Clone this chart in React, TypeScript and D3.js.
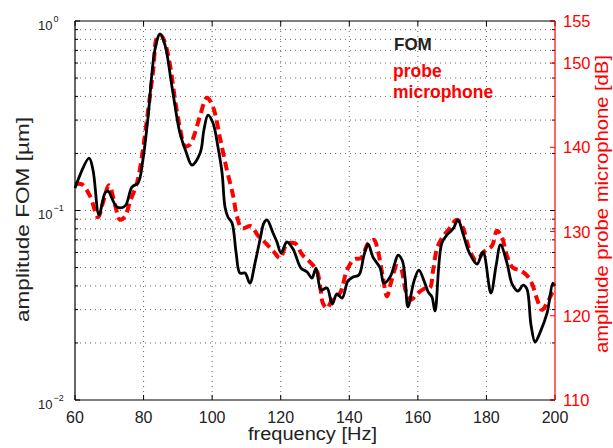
import React from "react";
import * as d3 from "d3";

const freqFOM = [60, 64.1, 65.25, 67, 68.75, 69.6, 72.25, 74.6, 76.6, 78.4, 79.8, 81.3, 83.3, 84.8, 86.25, 88.3, 90.6, 92.4, 94.1, 96.5, 97.6, 98.8, 100.25, 101.7, 102.9, 103.75, 104.6, 105.8, 107, 108.1, 109.6, 111, 112.5, 114, 115.1, 116, 117.75, 118.9, 120.1, 121.8, 123.6, 125.9, 127.7, 129.1, 130.3, 131.75, 133.5, 135, 136.4, 137.9, 139.6, 141.1, 142.8, 144.3, 145.5, 146.9, 149, 150.1, 151.9, 153.3, 154.2, 155.4, 156.25, 157.1, 158.9, 160.3, 161.8, 163, 164.1, 165, 167, 168.75, 170.25, 171.7, 173.2, 174.9, 177.25, 179, 181.3, 182.8, 184.1, 186, 187.5, 189.2, 190.7, 191.8, 193, 194.2, 195.6, 197.7, 199.4, 200];
const ampFOM = [0.1315, 0.189, 0.1636, 0.0947, 0.1237, 0.1268, 0.1043, 0.1056, 0.133, 0.1397, 0.1847, 0.311, 0.703, 0.854, 0.747, 0.449, 0.2565, 0.2037, 0.1738, 0.201, 0.266, 0.319, 0.2896, 0.2163, 0.1577, 0.1043, 0.0924, 0.0859, 0.0597, 0.0468, 0.0468, 0.0414, 0.0528, 0.0707, 0.0859, 0.0891, 0.0761, 0.0682, 0.0597, 0.0682, 0.0626, 0.0497, 0.0474, 0.044, 0.0497, 0.0381, 0.039, 0.0321, 0.0363, 0.0345, 0.0425, 0.0446, 0.0457, 0.0582, 0.0665, 0.0568, 0.0497, 0.0414, 0.0446, 0.0528, 0.0582, 0.0548, 0.0446, 0.031, 0.0425, 0.0485, 0.0425, 0.0372, 0.035, 0.0295, 0.0674, 0.0752, 0.0799, 0.0891, 0.0752, 0.0604, 0.0522, 0.0604, 0.0367, 0.0509, 0.0658, 0.0528, 0.0409, 0.0376, 0.0404, 0.0386, 0.0249, 0.0202, 0.0226, 0.0288, 0.0414, 0.04];

const freqMic = [60, 62, 64.4, 66.7, 68.2, 69.9, 71.7, 73.1, 74.6, 76, 78.1, 79.5, 80.4, 81.9, 82.9, 83.9, 85.1, 86.25, 87.7, 89.2, 90.6, 92.1, 93.5, 95, 96.5, 98.5, 100.25, 102.3, 104.3, 106.1, 107.25, 108.7, 111.3, 113.4, 115.7, 118, 119.8, 121.8, 124.2, 126.2, 128.5, 130.6, 131.5, 132.3, 133.5, 135.25, 137.3, 139.3, 141.4, 143.4, 145.5, 147.2, 148.4, 149.8, 151, 152.2, 153.9, 155.1, 156.5, 158, 159.75, 161.8, 163.5, 164.4, 165.6, 167, 169.1, 171.4, 173.2, 174.9, 177, 179.3, 181.6, 183.1, 184.5, 186, 187.75, 189.8, 191.8, 193.3, 194.75, 196.2, 197.7, 199.4, 200];
const dbMic = [135.6, 135.6, 134.2, 131.7, 133.5, 135.5, 133.15, 131.4, 131.8, 133.5, 135.8, 138.85, 141.5, 146.2, 149.5, 153, 153.3, 152.4, 149.8, 145.6, 142.3, 140.15, 140.3, 141.7, 143.8, 145.9, 144.8, 141.1, 137.3, 134.3, 131.8, 130.4, 130.65, 129.5, 128.6, 127.6, 126.85, 128.5, 128.6, 127.3, 126.4, 125.3, 123.5, 121.5, 120.9, 122.1, 122.7, 125.4, 126.7, 126.85, 128.6, 129, 127.6, 124.6, 122.3, 124, 125.9, 125.55, 122.9, 121.9, 122.6, 123.2, 123.3, 125.3, 128, 129.2, 130.3, 131.4, 130.4, 128, 126.6, 127.6, 128.3, 130.1, 129.35, 127.1, 125.7, 125.4, 124.8, 123.8, 122, 120.7, 121.5, 122.8, 122.9];

const xTicks = [60, 80, 100, 120, 140, 160, 180, 200];
const leftDecades = [1, 0.1, 0.01];
const leftExponents = ["0", "\u22121", "\u22122"];
const rightTicks = [110, 120, 130, 140, 150, 155];

const W = 613;
const H = 448;
const FONT = "'Liberation Sans', Arial, Helvetica, sans-serif";

export default function App() {
  const x = d3.scaleLinear().domain([60, 200]).range([75, 555]);
  const yL = d3.scaleLog().domain([0.01, 1]).range([400, 21]);
  const yR = d3.scaleLinear().domain([110, 155]).range([400, 21]);
  const x0 = x.range()[0], x1 = x.range()[1];
  const yTop = yL.range()[1], yBot = yL.range()[0];

  const logTicks = yL.ticks();

  const fomData = freqFOM.map((f, i) => [f, ampFOM[i]] as [number, number]);
  const micData = freqMic.map((f, i) => [f, dbMic[i]] as [number, number]);

  const lineFOM = d3
    .line<[number, number]>()
    .x((d) => x(d[0]))
    .y((d) => yL(d[1]))
    .curve(d3.curveCatmullRom.alpha(0.5));
  const lineMic = d3
    .line<[number, number]>()
    .x((d) => x(d[0]))
    .y((d) => yR(d[1]))
    .curve(d3.curveCatmullRom.alpha(0.5));

  const gridStyle = { stroke: "#666", strokeWidth: 1, strokeDasharray: "1,4" };

  return (
    <div style={{ position: "absolute", left: 0, top: 0 }}>
      <svg width={W} height={H} style={{ display: "block", background: "#fff" }} fontFamily={FONT}>
        <rect x={0} y={0} width={W} height={H} fill="#fff" />
        {/* grid */}
        {xTicks.slice(1, -1).map((t) => (
          <line key={"gx" + t} x1={x(t)} x2={x(t)} y1={yTop} y2={yBot} {...gridStyle} />
        ))}
        {logTicks
          .filter((t) => t > 0.0100001 && t < 0.99999)
          .map((t, i) => (
            <line key={"gy" + i} x1={x0} x2={x1} y1={yL(t)} y2={yL(t)} {...gridStyle} />
          ))}

        {/* curves */}
        <path
          d={lineMic(micData) || ""}
          fill="none"
          stroke="#ff0000"
          strokeWidth={4}
          strokeDasharray="9,5"
        />
        <path d={lineFOM(fomData) || ""} fill="none" stroke="#000" strokeWidth={2.8} strokeLinejoin="round" />

        {/* frame */}
        <line x1={x0} x2={x1} y1={yTop} y2={yTop} stroke="#000" strokeWidth={1} />
        <line x1={x0} x2={x1} y1={yBot} y2={yBot} stroke="#000" strokeWidth={1.2} />
        <line x1={x0} x2={x0} y1={yTop} y2={yBot} stroke="#000" strokeWidth={1.2} />

        {/* x ticks */}
        {xTicks.map((t) => (
          <g key={"xt" + t}>
            <line x1={x(t)} x2={x(t)} y1={yBot} y2={yBot - 5} stroke="#000" />
            <line x1={x(t)} x2={x(t)} y1={yTop} y2={yTop + 5} stroke="#000" />
            <text x={x(t)} y={422.5} textAnchor="middle" fontSize={16} fill="#222">
              {t}
            </text>
          </g>
        ))}

        {/* left log ticks */}
        {logTicks.map((t, i) => {
          const major = leftDecades.some((d) => Math.abs(d - t) < 1e-9);
          const len = major ? 5 : 3;
          return (
            <g key={"lt" + i}>
              <line x1={x0} x2={x0 + len} y1={yL(t)} y2={yL(t)} stroke="#000" />
              <line x1={x1} x2={x1 - len} y1={yL(t)} y2={yL(t)} stroke="#000" />
            </g>
          );
        })}
        {leftDecades.map((d, i) => (
          <text key={"ll" + i} x={38} y={yL(d) + 8.5} fontSize={13} fill="#222">
            10
            <tspan dx={1} dy={-8} fontSize={9}>
              {leftExponents[i]}
            </tspan>
          </text>
        ))}

        {/* right axis */}
        <line x1={x1} x2={x1} y1={yTop} y2={yBot} stroke="#ff0000" strokeWidth={1.2} />
        {rightTicks.map((t) => (
          <g key={"rt" + t}>
            <line x1={x1} x2={x1 - 5} y1={yR(t)} y2={yR(t)} stroke="#ff0000" />
            <text x={563} y={yR(t) + 6} fontSize={16.5} fill="#ff0000">
              {t}
            </text>
          </g>
        ))}

        {/* axis labels */}
        <text x={312.5} y={440} textAnchor="middle" fontSize={18} fill="#222" textLength={129} lengthAdjust="spacingAndGlyphs">
          frequency [Hz]
        </text>
        <text
          transform={`translate(${29},${219.5}) rotate(-90)`}
          textAnchor="middle"
          fontSize={18}
          fill="#222"
          textLength={205}
          lengthAdjust="spacingAndGlyphs"
        >
          amplitude FOM [µm]
        </text>
        <text
          transform={`translate(${608},${204}) rotate(-90)`}
          textAnchor="middle"
          fontSize={18}
          fill="#ff0000"
          textLength={298}
          lengthAdjust="spacingAndGlyphs"
        >
          amplitude probe microphone [dB]
        </text>

        {/* legend */}
        <text x={394} y={50} fontSize={17} fontWeight="bold" fill="#222">
          FOM
        </text>
        <text x={393} y={77} fontSize={17.5} fontWeight="bold" fill="#ff0000">
          probe
        </text>
        <text x={393} y={97.5} fontSize={17.5} fontWeight="bold" fill="#ff0000">
          microphone
        </text>
      </svg>
    </div>
  );
}
